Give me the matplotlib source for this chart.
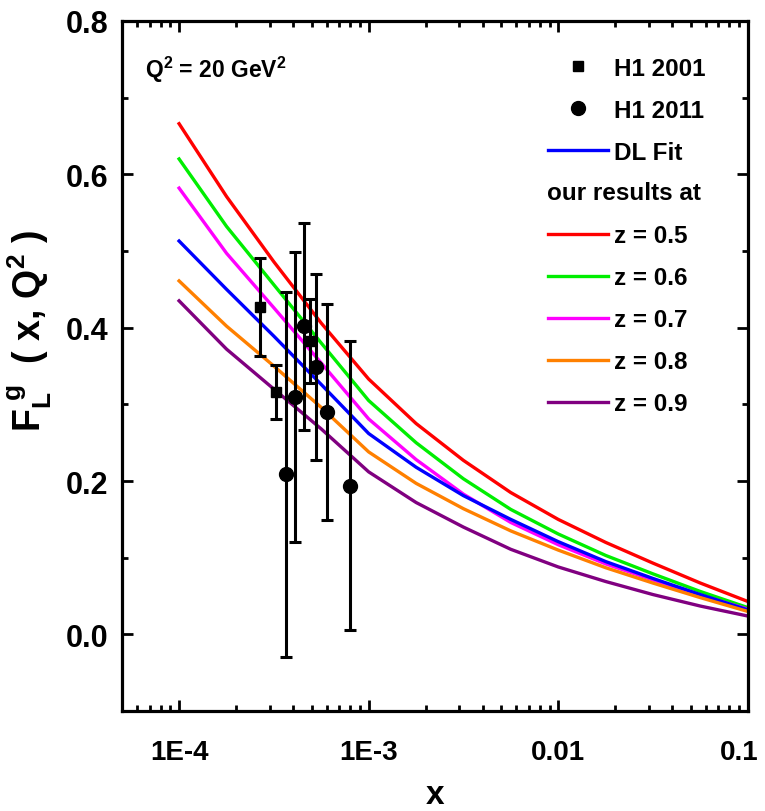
import numpy as np
import matplotlib
matplotlib.use('Agg')
import matplotlib.pyplot as plt
from matplotlib.ticker import MultipleLocator, LogLocator, NullFormatter
from matplotlib.transforms import ScaledTranslation

plt.rcParams['font.family'] = ['Liberation Sans', 'DejaVu Sans']
plt.rcParams['font.weight'] = 'bold'
plt.rcParams['mathtext.fontset'] = 'custom'
plt.rcParams['mathtext.rm'] = 'Liberation Sans:bold'
plt.rcParams['mathtext.it'] = 'Liberation Sans:bold'
plt.rcParams['mathtext.bf'] = 'Liberation Sans:bold'

# curves (quarter decades from 1E-4 to 0.1)
x_curve = [1e-4, 1.78e-4, 3.16e-4, 5.62e-4, 1e-3, 1.78e-3, 3.16e-3, 5.62e-3,
           1e-2, 1.78e-2, 3.16e-2, 5.62e-2, 1e-1]
z05 = [0.666, 0.571, 0.486, 0.406, 0.333, 0.275, 0.227, 0.185, 0.150, 0.120, 0.093, 0.067, 0.043]
z06 = [0.620, 0.532, 0.456, 0.380, 0.305, 0.250, 0.203, 0.163, 0.131, 0.103, 0.079, 0.056, 0.035]
z07 = [0.582, 0.497, 0.426, 0.354, 0.281, 0.228, 0.183, 0.146, 0.117, 0.092, 0.071, 0.051, 0.033]
dl_fit = [0.513, 0.450, 0.389, 0.326, 0.262, 0.218, 0.181, 0.150, 0.121, 0.095, 0.073, 0.052, 0.032]
z08 = [0.461, 0.402, 0.350, 0.296, 0.238, 0.197, 0.164, 0.135, 0.110, 0.087, 0.067, 0.048, 0.030]
z09 = [0.435, 0.372, 0.320, 0.268, 0.212, 0.172, 0.140, 0.111, 0.088, 0.069, 0.052, 0.037, 0.024]

# data points
h1_2001_x = [2.67e-4, 3.26e-4, 4.9e-4]
h1_2001_y = [0.427, 0.316, 0.383]
h1_2001_err = [0.064, 0.035, 0.055]

h1_2011_x = [3.68e-4, 4.11e-4, 4.58e-4, 5.25e-4, 6.0e-4, 8.0e-4]
h1_2011_y = [0.209, 0.310, 0.402, 0.349, 0.290, 0.194]
h1_2011_err = [0.238, 0.189, 0.135, 0.121, 0.141, 0.188]

fig = plt.figure(figsize=(7.65, 8.12), dpi=100)
ax = fig.add_axes([0.1595, 0.123, 0.818, 0.850])

lw = 2.4
ax.plot(x_curve, z05, color='red', lw=lw)
ax.plot(x_curve, z06, color='#00ee00', lw=lw)
ax.plot(x_curve, z07, color='magenta', lw=lw)
ax.plot(x_curve, dl_fit, color='blue', lw=lw)
ax.plot(x_curve, z08, color='#ff8000', lw=lw)
ax.plot(x_curve, z09, color='purple', lw=lw)

ax.errorbar(h1_2001_x, h1_2001_y, yerr=h1_2001_err, fmt='s', color='black',
            ms=7.5, elinewidth=2.2, capsize=4.5, capthick=2.2, zorder=5)
ax.errorbar(h1_2011_x, h1_2011_y, yerr=h1_2011_err, fmt='o', color='black',
            ms=10, elinewidth=2.2, capsize=4.5, capthick=2.2, zorder=5)

# legend
hs, = ax.plot([], [], 's', color='black', ms=7.5)
hc, = ax.plot([], [], 'o', color='black', ms=10)
hb, = ax.plot([], [], color='blue', lw=lw)
hn, = ax.plot([], [], color='none')
h5, = ax.plot([], [], color='red', lw=lw)
h6, = ax.plot([], [], color='#00ee00', lw=lw)
h7, = ax.plot([], [], color='magenta', lw=lw)
h8, = ax.plot([], [], color='#ff8000', lw=lw)
h9, = ax.plot([], [], color='purple', lw=lw)
leg = ax.legend([hs, hc, hb, hn, h5, h6, h7, h8, h9],
                ['H1 2001', 'H1 2011', 'DL Fit', ' ', 'z = 0.5', 'z = 0.6',
                 'z = 0.7', 'z = 0.8', 'z = 0.9'],
                loc='upper left', bbox_to_anchor=(0.645, 0.98), frameon=False,
                prop={'size': 17.5, 'weight': 'bold'}, handlelength=2.5,
                handletextpad=0.25, labelspacing=0.78, numpoints=1)
ax.text(0.679, 0.752, 'our results at', transform=ax.transAxes,
        fontsize=17.5, fontweight='bold', va='center', ha='left')

ax.text(0.037, 0.93, r'Q$^2$ = 20 GeV$^2$', transform=ax.transAxes,
        fontsize=16.5, fontweight='bold', va='center', ha='left')

ax.set_xscale('log')
ax.set_xlim(5e-5, 0.1)
ax.set_ylim(-0.1, 0.8)
ax.set_xticks([1e-4, 1e-3, 1e-2, 1e-1])
ax.set_xticklabels(['1E-4', '1E-3', '0.01', '0.1'])
ax.xaxis.set_minor_locator(LogLocator(base=10, subs=np.arange(2, 10)))
ax.xaxis.set_minor_formatter(NullFormatter())
ax.yaxis.set_minor_locator(MultipleLocator(0.1))
ax.set_yticks([0.0, 0.2, 0.4, 0.6, 0.8])
ax.set_yticklabels(['0.0', '0.2', '0.4', '0.6', '0.8'])

ax.tick_params(which='both', direction='in', top=True, right=True, width=2)
ax.tick_params(which='major', length=8)
ax.tick_params(axis='x', which='major', pad=20, labelsize=20)
ax.tick_params(axis='y', which='major', pad=10, labelsize=22)
ax.tick_params(which='minor', length=4.5)
for s in ax.spines.values():
    s.set_linewidth(2.3)

ax.set_xlabel('x', fontsize=24, fontweight='bold', labelpad=10)
ax.set_ylabel(r'F$_L^{\ g}$  ( x, Q$^2$ )', fontsize=27, fontweight='bold')
ax.yaxis.set_label_coords(-0.108, 0.552)

# pull the last x label a little inside the figure
fig.canvas.draw()
last = ax.xaxis.get_majorticklabels()[-1]
last.set_transform(last.get_transform() + ScaledTranslation(-6 / 72, 0, fig.dpi_scale_trans))

fig.savefig('out.png', dpi=100)
